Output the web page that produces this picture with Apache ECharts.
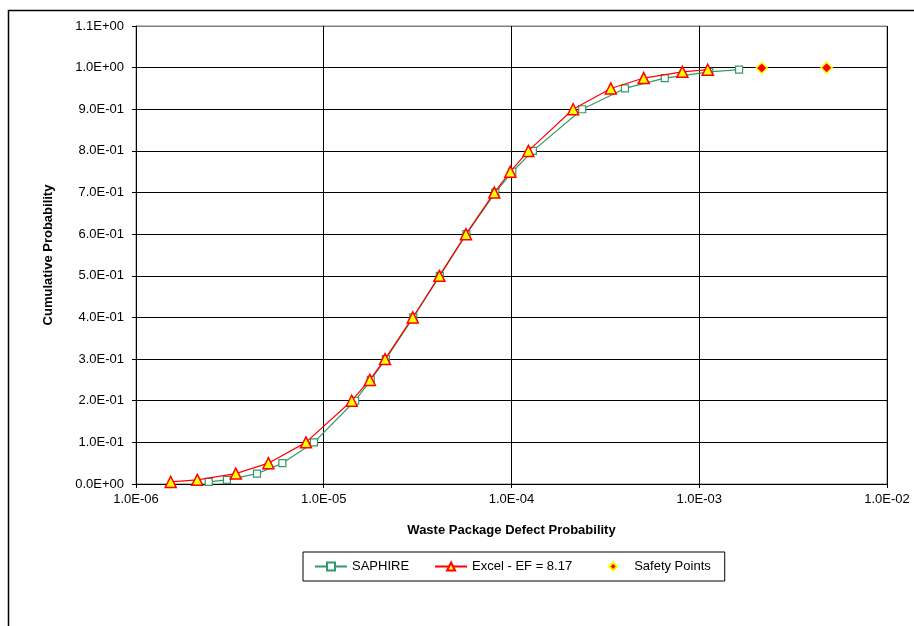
<!DOCTYPE html>
<html>
<head>
<meta charset="utf-8">
<script src="https://cdn.jsdelivr.net/npm/echarts@6/dist/echarts.min.js"></script>
<style>
html,body{margin:0;padding:0;background:#fff;}
#c{width:914px;height:626px;}
</style>
</head>
<body>
<div id="c"></div>
<script>
// Data
const probLevels = [0.005, 0.01, 0.025, 0.05, 0.1, 0.2, 0.25, 0.3, 0.4, 0.5, 0.6, 0.7, 0.75, 0.8, 0.9, 0.95, 0.975, 0.99, 0.995];
const saphireX = [2.44e-6, 3.05e-6, 4.41e-6, 6.02e-6, 8.87e-6, 1.47e-5, 1.78e-5, 2.14e-5, 3.0e-5, 4.15e-5, 5.75e-5, 8.2e-5, 1.01e-4, 1.30e-4, 2.38e-4, 4.02e-4, 6.55e-4, 1.13e-3, 1.63e-3];
const excelX = [1.53e-6, 2.12e-6, 3.40e-6, 5.07e-6, 8.04e-6, 1.41e-5, 1.76e-5, 2.12e-5, 2.98e-5, 4.13e-5, 5.72e-5, 8.1e-5, 9.86e-5, 1.23e-4, 2.13e-4, 3.38e-4, 5.06e-4, 8.13e-4, 1.11e-3];
const safetyX = [2.15e-3, 4.77e-3];
const safetyY = [0.999, 0.9999];
const seriesNames = ['SAPHIRE', 'Excel - EF = 8.17', 'Safety Points'];
const xTitle = 'Waste Package Defect Probability';
const yTitle = 'Cumulative Probability';

function sci(v) {
  if (Math.abs(v) < 1e-12) return '0.0E+00';
  let e = Math.floor(Math.log10(Math.abs(v)) + 1e-9);
  let m = Math.round(v / Math.pow(10, e) * 10) / 10;
  if (m >= 10) { m = m / 10; e += 1; }
  const sign = e < 0 ? '-' : '+';
  const ae = Math.abs(e);
  return m.toFixed(1) + 'E' + sign + (ae < 10 ? '0' + ae : '' + ae);
}

const font = "'Liberation Sans', Arial, sans-serif";
const chart = echarts.init(document.getElementById('c'), null, {renderer: 'canvas'});

const yGridColors = [];
for (let i = 0; i < 12; i++) yGridColors.push(i === 11 ? '#808080' : '#000000');

chart.setOption({
  animation: false,
  backgroundColor: '#ffffff',
  textStyle: {fontFamily: font, color: '#000'},
  graphic: [{
    type: 'rect',
    shape: {x: 8.5, y: 10.5, width: 1000, height: 1000},
    style: {fill: 'none', stroke: '#000', lineWidth: 1.5},
    z: -1
  }],
  grid: {
    left: 136, right: 27, top: 26, bottom: 142,
    show: true, borderColor: '#808080', borderWidth: 1, backgroundColor: 'transparent'
  },
  legend: {
    left: 303, top: 552,
    orient: 'horizontal',
    padding: [8, 14, 8, 11],
    borderColor: '#000', borderWidth: 1,
    itemWidth: 32, itemHeight: 10, itemGap: 25,
    textStyle: {fontFamily: font, fontSize: 13, color: '#000'},
    data: seriesNames
  },
  xAxis: {
    type: 'log', logBase: 10, min: 1e-6, max: 1e-2,
    name: xTitle, nameLocation: 'middle', nameGap: 40,
    nameTextStyle: {fontFamily: font, fontSize: 13, fontWeight: 'bold', color: '#000'},
    axisLine: {show: true, lineStyle: {color: '#000', width: 1}},
    axisTick: {show: true, length: 4, lineStyle: {color: '#000'}},
    minorTick: {show: false},
    axisLabel: {fontFamily: font, fontSize: 13, color: '#000', margin: 9, formatter: sci},
    splitLine: {show: true, lineStyle: {color: ['#000', '#000', '#000', '#000', '#808080'], width: 1}}
  },
  yAxis: {
    type: 'value', min: 0, max: 1.1, interval: 0.1,
    name: yTitle, nameLocation: 'middle', nameGap: 81, nameRotate: 90,
    nameTextStyle: {fontFamily: font, fontSize: 13, fontWeight: 'bold', color: '#000'},
    axisLine: {show: true, lineStyle: {color: '#000', width: 1}},
    axisTick: {show: true, length: 4, lineStyle: {color: '#000'}},
    axisLabel: {fontFamily: font, fontSize: 13, color: '#000', margin: 12, formatter: sci},
    splitLine: {show: true, lineStyle: {color: yGridColors, width: 1}}
  },
  series: [
    {
      name: seriesNames[0], type: 'line',
      data: saphireX.map((x, i) => [x, probLevels[i]]),
      symbol: 'rect', symbolSize: 7,
      lineStyle: {color: '#339966', width: 1.2},
      itemStyle: {color: '#ffffff', borderColor: '#339966', borderWidth: 1.2},
      z: 3
    },
    {
      name: seriesNames[1], type: 'line',
      data: excelX.map((x, i) => [x, probLevels[i]]),
      symbol: 'triangle', symbolSize: 11,
      lineStyle: {color: '#ff0000', width: 1.2},
      itemStyle: {color: '#ffff00', borderColor: '#ff0000', borderWidth: 1.5},
      z: 4
    },
    {
      name: seriesNames[2], type: 'line',
      data: safetyX.map((x, i) => [x, safetyY[i]]),
      symbol: 'diamond', symbolSize: 11,
      lineStyle: {width: 0, opacity: 0},
      itemStyle: {color: '#ff0000', borderColor: '#ffff00', borderWidth: 1.5},
      z: 5
    }
  ]
});
</script>
</body>
</html>
